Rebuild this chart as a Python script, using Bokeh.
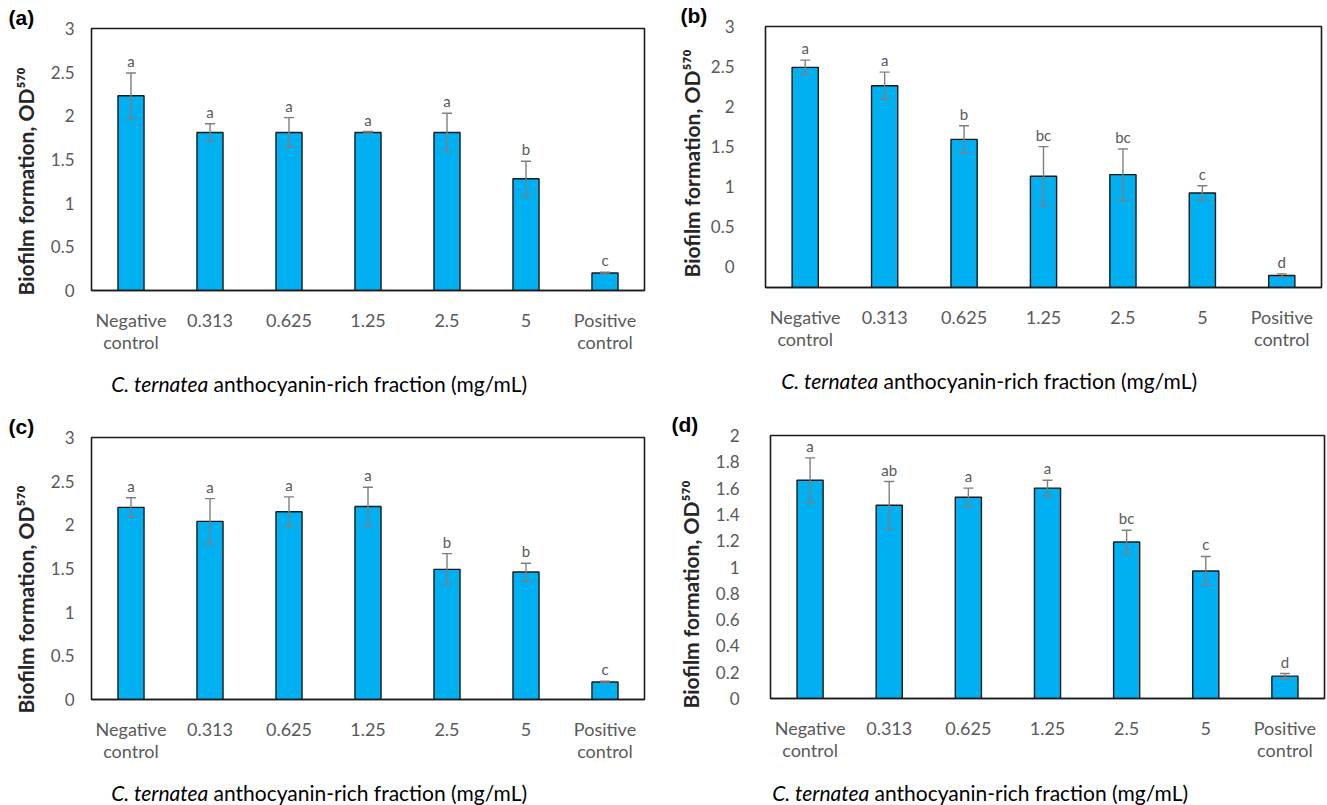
from bokeh.plotting import figure
from bokeh.models import (ColumnDataSource, Whisker, TeeHead, Title, Label,
                          FixedTicker, FactorRange, Range1d)
from bokeh.layouts import column, row
from bokeh.embed import file_html
from bokeh.resources import INLINE
from bokeh.core.properties import value

# ---------------- data ----------------
categories = ["Negative\ncontrol", "0.313", "0.625", "1.25", "2.5", "5", "Positive\ncontrol"]

a_mean = [2.23, 1.81, 1.81, 1.81, 1.81, 1.28, 0.20]
a_sd = [0.26, 0.10, 0.17, 0.01, 0.22, 0.20, 0.01]
a_letters = ["a", "a", "a", "a", "a", "b", "c"]

b_mean = [2.49, 2.26, 1.59, 1.13, 1.15, 0.92, -0.11]
b_sd = [0.09, 0.17, 0.17, 0.37, 0.32, 0.09, 0.02]
b_letters = ["a", "a", "b", "bc", "bc", "c", "d"]

c_mean = [2.20, 2.04, 2.15, 2.21, 1.49, 1.46, 0.20]
c_sd = [0.11, 0.26, 0.17, 0.22, 0.18, 0.10, 0.01]
c_letters = ["a", "a", "a", "a", "b", "b", "c"]

d_mean = [1.66, 1.47, 1.53, 1.60, 1.19, 0.97, 0.17]
d_sd = [0.17, 0.18, 0.07, 0.06, 0.09, 0.11, 0.02]
d_letters = ["a", "ab", "a", "a", "bc", "c", "d"]

ticks_3 = [0, 0.5, 1, 1.5, 2, 2.5, 3]
ticks_2 = [0, 0.2, 0.4, 0.6, 0.8, 1, 1.2, 1.4, 1.6, 1.8, 2]

panel_tags = ["(a)", "(b)", "(c)", "(d)"]
y_title = "Biofilm formation, OD\u2075\u2077\u2070"
x_title_italic = "C. ternatea"
x_title_rest = "anthocyanin-rich fraction (mg/mL)"

# ---------------- styling ----------------
BAR = "#00B0F0"
GRAY = "#595959"
ERR = "#7f7f7f"
FONT = "Lato"
STRIP_H = 40


def panel(mean, sd, letters, ticks, tag, cfg):
    W, H = cfg["size"]
    Hm = H - STRIP_H
    L, R, T, B = cfg["frame"]
    y0, y1 = cfg["yr"]
    p = figure(width=W, height=Hm, x_range=FactorRange(*categories),
               y_range=Range1d(y0, y1), output_backend="svg",
               toolbar_location=None, tools="")
    p.min_border_left = L
    p.min_border_right = W - R
    p.min_border_top = T
    p.min_border_bottom = Hm - B
    p.background_fill_color = "white"
    p.border_fill_color = "white"
    p.outline_line_color = "#1a1a1a"
    p.outline_line_width = 1.6
    p.grid.visible = False

    upper = [m + s for m, s in zip(mean, sd)]
    lower = [m - s for m, s in zip(mean, sd)]
    src = ColumnDataSource(dict(cat=categories, mean=mean, upper=upper,
                                lower=lower, lab=letters))
    p.vbar(x="cat", top="mean", bottom=y0, width=0.33, source=src,
           fill_color=BAR, line_color="#1a1a1a", line_width=1.4)
    w = Whisker(base="cat", upper="upper", lower="lower", source=src,
                line_color=ERR, line_width=1.4, level="overlay",
                upper_head=TeeHead(size=10, line_color=ERR, line_width=1.4),
                lower_head=TeeHead(size=10, line_color=ERR, line_width=1.4))
    p.add_layout(w)
    p.text(x="cat", y="upper", text="lab", source=src, text_align="center",
           text_baseline="bottom", y_offset=-3, text_font=value(FONT),
           text_font_size="15px", text_color=GRAY)

    # axes
    p.yaxis.ticker = FixedTicker(ticks=ticks)
    p.yaxis.major_label_overrides = {t: f"{t:g}" for t in ticks}
    p.yaxis.major_label_text_font = FONT
    p.yaxis.major_label_text_font_size = "17px"
    p.yaxis.major_label_text_color = GRAY
    p.yaxis.major_label_standoff = cfg["ystand"]
    p.yaxis.major_tick_line_color = None
    p.yaxis.minor_tick_line_color = None
    p.yaxis.axis_line_color = None

    p.xaxis.major_label_text_font = FONT
    p.xaxis.major_label_text_font_size = "18px"
    p.xaxis.major_label_text_color = GRAY
    p.xaxis.major_label_text_line_height = 1.0
    p.xaxis.major_label_standoff = 12
    p.xaxis.major_tick_line_color = None
    p.xaxis.minor_tick_line_color = None
    p.xaxis.axis_line_color = "#1a1a1a"
    p.xaxis.axis_line_width = 1.6

    # panel tag
    p.add_layout(Title(text=tag, align="left", offset=cfg["tag_x"] - L,
                       standoff=0, text_font="Liberation Sans",
                       text_baseline="alphabetic",
                       text_font_style="bold", text_font_size="21px",
                       text_color="black"), "above")
    # y title (starts at its reference position near the frame bottom)
    p.add_layout(Title(text=y_title, align="left", offset=B - cfg["yt_start"],
                       standoff=cfg["yt_stand"], text_font=FONT,
                       text_font_style="bold", text_font_size="21px",
                       text_color="#262626"), "left")

    # x title strip (italic species name + rest on one line); its frame is
    # aligned with the chart frame above it
    s = figure(width=W, height=STRIP_H, x_range=Range1d(0, 1), y_range=Range1d(0, 1),
               x_axis_location=None, y_axis_location=None, output_backend="svg",
               toolbar_location=None, tools="")
    s.min_border_left = L
    s.min_border_right = W - R
    s.min_border_top = 0
    s.min_border_bottom = 0
    s.outline_line_color = None
    s.background_fill_color = "white"
    s.border_fill_color = "white"
    s.grid.visible = False
    split, cy = cfg["xtitle"]
    ly = STRIP_H - (cy - Hm)
    s.add_layout(Label(x=split - 2 - L, y=ly, x_units="screen", y_units="screen",
                       text=x_title_italic, text_font=FONT, text_font_style="italic",
                       text_font_size="21px", text_color="black",
                       text_align="right", text_baseline="middle"))
    s.add_layout(Label(x=split + 3 - L, y=ly, x_units="screen", y_units="screen",
                       text=x_title_rest, text_font=FONT,
                       text_font_size="21px", text_color="black",
                       text_align="left", text_baseline="middle"))
    return column(p, s, spacing=0)


cfg_a = dict(size=(660, 402), frame=(88, 644, 28, 290), yr=(0, 3), ystand=11,
             tag_x=5, yt_start=295, yt_stand=20, xtitle=(207, 383))
cfg_b = dict(size=(667, 402), frame=(105, 661, 26, 287), yr=(-0.26, 3), ystand=25,
             tag_x=20, yt_start=277, yt_stand=8, xtitle=(220, 380))
cfg_c = dict(size=(660, 403), frame=(88, 644, 35, 297), yr=(0, 3), ystand=11,
             tag_x=5, yt_start=311, yt_stand=20, xtitle=(207, 390))
cfg_d = dict(size=(667, 403), frame=(110, 664, 33, 296), yr=(0, 2), ystand=25,
             tag_x=11, yt_start=306, yt_stand=19, xtitle=(211, 390))

pa = panel(a_mean, a_sd, a_letters, ticks_3, panel_tags[0], cfg_a)
pb = panel(b_mean, b_sd, b_letters, ticks_3, panel_tags[1], cfg_b)
pc = panel(c_mean, c_sd, c_letters, ticks_3, panel_tags[2], cfg_c)
pd = panel(d_mean, d_sd, d_letters, ticks_2, panel_tags[3], cfg_d)

layout = column(row(pa, pb, spacing=0), row(pc, pd, spacing=0), spacing=0)
open("out.html", "w").write(file_html(layout, INLINE))
